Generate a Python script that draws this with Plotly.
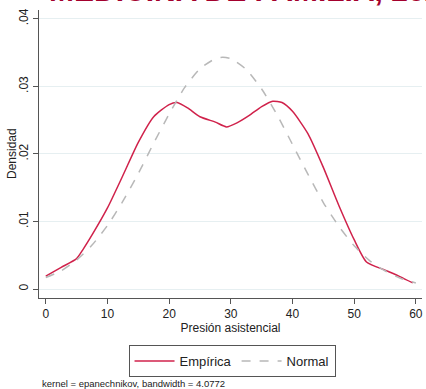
import plotly.graph_objects as go

emp_x = [0, 2.5, 5, 6, 7.5, 10, 12.5, 15, 17.5, 20, 21.3, 23, 25, 27.5, 29.3, 31, 33, 35, 36.8, 38.3, 40, 42.5, 45, 47.5, 50, 52, 55, 57.5, 59.5]
emp_y = [0.0019, 0.0032, 0.0045, 0.0058, 0.0080, 0.0120, 0.0168, 0.0217, 0.0255, 0.0273, 0.0276, 0.0268, 0.0255, 0.0247, 0.0240, 0.0246, 0.0257, 0.0270, 0.0278, 0.0276, 0.0263, 0.0230, 0.0180, 0.0124, 0.0073, 0.0040, 0.0028, 0.0018, 0.0009]

# Normal density
norm_x = [0, 2.5, 5, 7.5, 10, 12.5, 15, 17.5, 20, 22.5, 25, 27.5, 28.7, 30, 32.5, 35, 37.5, 40, 42.5, 45, 47.5, 50, 52.5, 55, 57.5, 60]
norm_y = [0.0017, 0.0027, 0.0043, 0.0065, 0.0094, 0.0130, 0.0171, 0.0216, 0.0259, 0.0298, 0.0326, 0.0341, 0.0343, 0.0341, 0.0325, 0.0296, 0.0258, 0.0214, 0.0170, 0.0128, 0.0093, 0.0064, 0.0042, 0.0027, 0.0016, 0.0009]

x_ticks = [0, 10, 20, 30, 40, 50, 60]
y_ticks = [0, 0.01, 0.02, 0.03, 0.04]
y_tick_labels = ["0", ".01", ".02", ".03", ".04"]

FONT = "Liberation Sans, Arial, sans-serif"
PH = 288.0  # plot height in px
PW = 383.0  # plot width in px

fig = go.Figure()
fig.add_trace(go.Scatter(x=emp_x, y=emp_y, mode="lines", name="Empírica",
                         line=dict(color="#d0224b", width=1.5, shape="spline", smoothing=0.6)))
fig.add_trace(go.Scatter(x=norm_x, y=norm_y, mode="lines", name="Normal",
                         line=dict(color="#b8b8b8", width=1.5, dash="dash", shape="spline", smoothing=0.6)))

fig.update_layout(
    width=426, height=389,
    margin=dict(l=39, r=4, t=10, b=91),
    plot_bgcolor="white", paper_bgcolor="white",
    font=dict(family=FONT, color="#222222", size=12),
    showlegend=True,
    legend=dict(orientation="h", x=0.504, xanchor="center", y=-0.163, yanchor="top",
                bordercolor="#555555", borderwidth=1, font=dict(size=13),
                itemwidth=40, tracegroupgap=0),
    xaxis=dict(range=[-1.1, 61], tickvals=x_ticks, ticks="outside", ticklen=5,
               tickcolor="#555555", showline=True, linecolor="#555555", linewidth=1,
               showgrid=False, zeroline=False, tickfont=dict(size=12),
               title=dict(text="Presión asistencial", font=dict(size=12), standoff=2)),
    yaxis=dict(range=[-0.00133, 0.0413], tickvals=y_ticks, ticktext=y_tick_labels,
               tickangle=-90, ticks="outside", ticklen=5, tickcolor="#555555",
               showline=True, linecolor="#555555", linewidth=1,
               showgrid=True, gridcolor="#e6eff1", gridwidth=1, zeroline=False,
               tickfont=dict(size=12), ticklabelstandoff=0),
    annotations=[
        dict(text="<b>MEDICINA DE FAMILIA, 2023</b>", xref="paper", yref="paper",
             x=(47 - 39) / PW, y=(298 - 8.5) / PH, xanchor="left", yanchor="bottom",
             showarrow=False, font=dict(size=30, color="#a3002d", family=FONT)),
        dict(text="Densidad", xref="paper", yref="paper",
             x=(12 - 39) / PW, y=(298 - 153) / PH, xanchor="center", yanchor="middle",
             textangle=-90, showarrow=False, font=dict(size=12, color="#222222", family=FONT)),
        dict(text="kernel = epanechnikov, bandwidth = 4.0772", xref="paper", yref="paper",
             x=(40 - 39) / PW, y=(298 - 383) / PH, xanchor="left", yanchor="middle",
             showarrow=False, font=dict(size=9.5, color="#222222", family=FONT)),
    ],
)

fig.write_html("out.html")
